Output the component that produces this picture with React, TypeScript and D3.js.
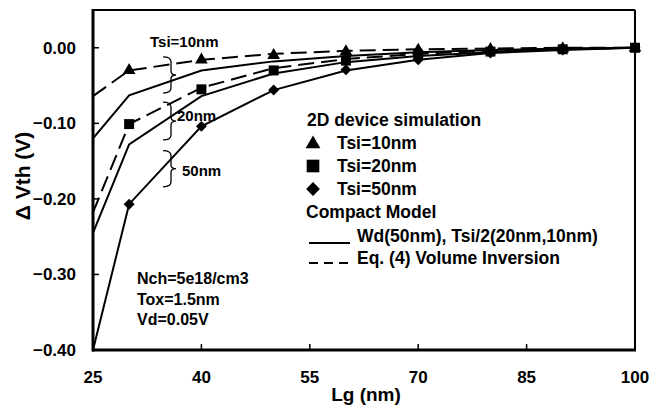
import * as d3 from "d3";

// simulation points
const simLg = [30, 40, 50, 60, 70, 80, 90, 100];
const tsi10 = [-0.03, -0.016, -0.01, -0.005, -0.003, -0.002, -0.001, 0];
const tsi20 = [-0.101, -0.055, -0.03, -0.017, -0.009, -0.005, -0.002, 0];
const tsi50 = [-0.207, -0.104, -0.056, -0.029, -0.016, -0.007, -0.003, 0];

// compact model curves
const modelLg = [25, 30, 40, 50, 60, 70, 80, 90, 100];
const solid10 = [-0.12, -0.063, -0.03, -0.018, -0.011, -0.006, -0.003, -0.001, 0];
const solid20 = [-0.245, -0.128, -0.064, -0.034, -0.019, -0.011, -0.006, -0.002, 0];
const solid50 = [-0.4, -0.207, -0.104, -0.056, -0.03, -0.016, -0.007, -0.003, 0];
const dashed10 = [-0.064, -0.03, -0.016, -0.008, -0.004, -0.002, -0.001, 0, 0];
const dashed20 = [-0.218, -0.101, -0.053, -0.027, -0.015, -0.008, -0.004, -0.002, 0];

const xTicks = [25, 40, 55, 70, 85, 100];
const yTicks = [0, -0.1, -0.2, -0.3, -0.4];

// brace annotations (Lg position, top / bottom of brace in V, label)
const braceTop = [-0.012, -0.072, -0.136];
const braceBottom = [-0.06, -0.122, -0.184];
const braceLabels = ["Tsi=10nm", "20nm", "50nm"];

const font = "'Liberation Sans', Arial, sans-serif";

export default function App() {
  const W = 654, H = 405;
  const x = d3.scaleLinear().domain([25, 100]).range([93, 635]);
  const y = d3.scaleLinear().domain([-0.4, 0.05]).range([350, 10]);

  const line = d3.line<number>()
    .x((d, i) => x(modelLg[i]))
    .y(d => y(d));

  const tri = d3.symbol().type(d3.symbolTriangle);
  const sq = d3.symbol().type(d3.symbolSquare);

  const fmt = (v: number) => (v < 0 ? "\u2212" : "") + Math.abs(v).toFixed(2);

  // brace path
  const brace = (y1: number, y2: number) => {
    const xl = 163, xs = 171, xt = 176;
    const ym = (y1 + y2) / 2;
    return `M${xl},${y1} Q${xs},${y1} ${xs},${y1 + 5} L${xs},${ym - 4} Q${xs},${ym} ${xt},${ym} Q${xs},${ym} ${xs},${ym + 4} L${xs},${y2 - 5} Q${xs},${y2} ${xl},${y2}`;
  };

  const legX = 313;
  const legTextX = 337;

  return (
    <svg width={W} height={H} style={{ position: "absolute", left: 0, top: 0, background: "#fff" }}
      fontFamily={font} fontWeight="bold">
      {/* compact model lines */}
      <g fill="none" stroke="#000" strokeWidth={2}>
        <path d={line(solid10) || ""} />
        <path d={line(solid20) || ""} />
        <path d={line(solid50) || ""} />
        <path d={line(dashed10) || ""} strokeDasharray="16,7" />
        <path d={line(dashed20) || ""} strokeDasharray="16,7" />
      </g>

      {/* simulation markers */}
      <g fill="#000">
        {simLg.map((lg, i) => (
          <path key={"t" + i} d={tri.size(70)() || ""} transform={`translate(${x(lg)},${y(tsi10[i])})`} />
        ))}
        {simLg.map((lg, i) => (
          <path key={"s" + i} d={sq.size(100)() || ""} transform={`translate(${x(lg)},${y(tsi20[i])})`} />
        ))}
        {simLg.map((lg, i) => (
          <path key={"d" + i} d={sq.size(60)() || ""} transform={`translate(${x(lg)},${y(tsi50[i])}) rotate(45)`} />
        ))}
      </g>

      {/* frame */}
      <line x1={93} x2={635} y1={10} y2={10} stroke="#000" strokeWidth={2} />
      <line x1={635} x2={635} y1={10} y2={350} stroke="#000" strokeWidth={2} />
      <line x1={93} x2={93} y1={9} y2={351.5} stroke="#000" strokeWidth={3} />
      <line x1={92} x2={636} y1={350} y2={350} stroke="#000" strokeWidth={3} />

      {/* y axis */}
      {yTicks.map(t => (
        <g key={t}>
          <line x1={93} x2={99} y1={y(t)} y2={y(t)} stroke="#000" strokeWidth={1.5} />
          <text x={76} y={y(t) + 6} textAnchor="end" fontSize={17}>{fmt(t)}</text>
        </g>
      ))}
      {/* x axis */}
      {xTicks.map(t => (
        <g key={t}>
          <line x1={x(t)} x2={x(t)} y1={344} y2={350} stroke="#000" strokeWidth={1.5} />
          <text x={x(t)} y={383} textAnchor="middle" fontSize={17}>{t}</text>
        </g>
      ))}
      <text x={366} y={401} textAnchor="middle" fontSize={19}>Lg (nm)</text>
      <text transform="rotate(-90)" x={-176} y={30} textAnchor="middle" fontSize={21}>Δ Vth (V)</text>

      {/* braces */}
      <g fill="none" stroke="#000" strokeWidth={1.3}>
        {braceTop.map((b, i) => (
          <path key={i} d={brace(y(b), y(braceBottom[i]))} />
        ))}
      </g>
      <text x={150} y={47} fontSize={15}>{braceLabels[0]}</text>
      <text x={177} y={121} fontSize={15}>{braceLabels[1]}</text>
      <text x={182} y={176} fontSize={15}>{braceLabels[2]}</text>

      {/* legend */}
      <g fontSize={17.5}>
        <text x={307} y={126}>2D device simulation</text>
        <path d={tri.size(95)() || ""} transform={`translate(${legX},144)`} />
        <text x={legTextX} y={149}>Tsi=10nm</text>
        <path d={sq.size(160)() || ""} transform={`translate(${legX},166)`} />
        <text x={legTextX} y={172}>Tsi=20nm</text>
        <path d={sq.size(95)() || ""} transform={`translate(${legX},189) rotate(45)`} />
        <text x={legTextX} y={195}>Tsi=50nm</text>
        <text x={306} y={218}>Compact Model</text>
        <line x1={309} x2={350} y1={243} y2={243} stroke="#000" strokeWidth={2} />
        <text x={357} y={242}>Wd(50nm), Tsi/2(20nm,10nm)</text>
        <line x1={309} x2={348} y1={263} y2={263} stroke="#000" strokeWidth={2} strokeDasharray="9,6" />
        <text x={357} y={264}>Eq. (4) Volume Inversion</text>
      </g>

      {/* conditions */}
      <g fontSize={16}>
        <text x={137} y={284}>Nch=5e18/cm3</text>
        <text x={137} y={305}>Tox=1.5nm</text>
        <text x={137} y={325}>Vd=0.05V</text>
      </g>
    </svg>
  );
}
